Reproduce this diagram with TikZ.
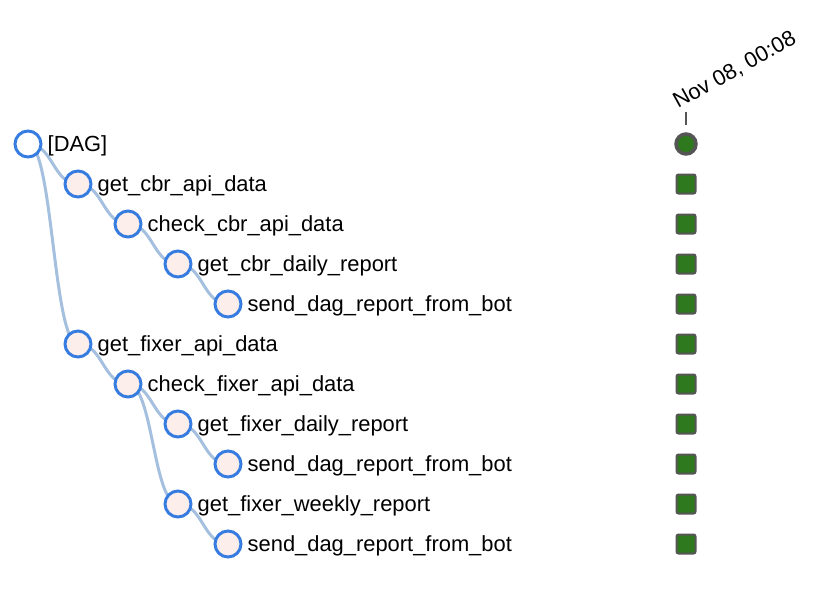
\documentclass[tikz,border=0pt]{standalone}
\usepackage{fontspec}
\setmainfont{Liberation Sans}
\usetikzlibrary{calc}
\usetikzlibrary{positioning}
\usetikzlibrary{backgrounds}

\definecolor{taskblue}{RGB}{55,125,225}
\definecolor{taskfill}{RGB}{252,238,234}
\definecolor{linkblue}{RGB}{164,192,222}
\definecolor{okgreen}{RGB}{46,120,30}
\definecolor{boxgray}{RGB}{85,85,85}

\tikzset{
  task/.style={circle,draw=taskblue,fill=taskfill,line width=3pt,minimum size=26pt,inner sep=0pt},
  root/.style={task,fill=white},
  lbl/.style={inner sep=0pt,text height=15.7pt,text depth=0pt,font=\fontsize{21.9}{26}\selectfont},
  link/.style={draw=linkblue,line width=3pt},
  okbox/.style={rectangle,draw=boxgray,fill=okgreen,line width=2pt,minimum size=19pt,inner sep=0pt,rounded corners=2pt},
  okrun/.style={circle,draw=boxgray,fill=okgreen,line width=3.5pt,minimum size=20pt,inner sep=0pt},
}

\begin{document}
\begin{tikzpicture}[x=1pt,y=1pt]
\useasboundingbox (0,0) rectangle (826,-598);

% tree
\node[root] (dag) at (28,-144) {};
\node[lbl,right=5pt of dag] (dag-l) {[DAG]};
\foreach \nm/\col/\row/\txt in {cbrget/1/1/get\_cbr\_api\_data,
    cbrcheck/2/2/check\_cbr\_api\_data,
    cbrdaily/3/3/get\_cbr\_daily\_report,
    cbrsend/4/4/send\_dag\_report\_from\_bot,
    fxget/1/5/get\_fixer\_api\_data,
    fxcheck/2/6/check\_fixer\_api\_data,
    fxdaily/3/7/get\_fixer\_daily\_report,
    fxsend1/4/8/send\_dag\_report\_from\_bot,
    fxweekly/3/9/get\_fixer\_weekly\_report,
    fxsend2/4/10/send\_dag\_report\_from\_bot} {
  \node[task] (\nm) at ({28+50*\col},{-144-40*\row}) {};
  \node[lbl,right=5pt of \nm] (\nm-l) {\txt};
}

\begin{scope}[on background layer]
\foreach \a/\b in {dag/cbrget, cbrget/cbrcheck, cbrcheck/cbrdaily, cbrdaily/cbrsend,
    dag/fxget, fxget/fxcheck, fxcheck/fxdaily, fxdaily/fxsend1,
    fxcheck/fxweekly, fxweekly/fxsend2}
  \draw[link] let \p1=(\a.center), \p2=(\b.center) in
    (\p1) .. controls ({(\x1+\x2)/2},\y1) and ({(\x1+\x2)/2},\y2) .. (\p2);
\end{scope}

% run column
\node[okrun] (run) at (686,-144) {};
\foreach \i in {1,...,10}
  \node[okbox] (ok\i) at (686,{-144-40*\i}) {};

\coordinate (tick) at (686,-112);
\draw[boxgray,line width=1.5pt] (tick) -- ++(0,-13);
\node[lbl,text height=,anchor=base west,rotate=29] (date) at ($(tick)+(-8,3)$) {Nov 08, 00:08};
\end{tikzpicture}
\end{document}
